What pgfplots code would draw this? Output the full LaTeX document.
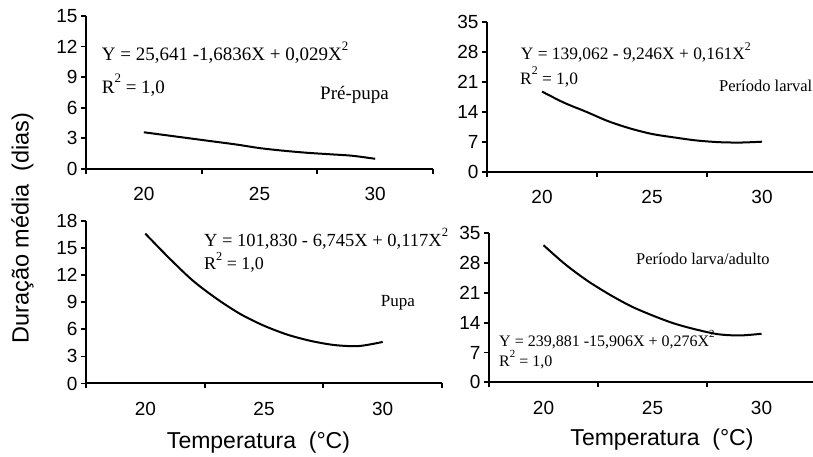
\documentclass[border=0pt]{standalone}
\usepackage{fontspec}
\setmainfont{Liberation Sans}
\newfontfamily\tms{Liberation Serif}
\usepackage{graphicx}
\usepackage{pgfplots}
\pgfplotsset{compat=1.18}

\newcommand\sq{\raisebox{0.55em}{\scalebox{0.68}{2}}}

\pgfplotsset{
  panel/.style={
    scale only axis,
    anchor=south west,
    xmin=17.5, xmax=32.5,
    ymin=0,
    axis x line*=bottom, axis y line*=left,
    axis line style={line width=2pt},
    xtick={17.5,22.5,27.5,32.5},
    xticklabels={,,,},
    extra x ticks={20,25,30},
    extra x tick labels={20,25,30},
    extra x tick style={major tick length=0pt, tick label style={yshift=-15pt}},
    tick align=outside,
    major tick length=5pt,
    every tick/.style={black, line width=1.8pt},
    tick label style={font=\fontsize{19}{19}\selectfont},
    /pgf/number format/assume math mode=true,
    clip=false,
  },
  curve/.style={black, line width=2pt, smooth, no markers},
}

\begin{document}
\begin{tikzpicture}[x=1pt,y=1pt]
% Pre-pupa
\begin{axis}[panel, at={(86pt,288pt)}, width=347pt, height=153pt,
  ymax=15, ytick={0,3,...,15}]
\addplot[curve] coordinates {
  (20,3.6) (21,3.3) (22,3.0) (23,2.7) (24,2.4) (25,2.05)
  (26,1.8) (27,1.6) (28,1.45) (29,1.3) (30,1.0)};
\end{axis}
% Periodo larval
\begin{axis}[panel, at={(487pt,285.3pt)}, width=330pt, height=150pt,
  ymax=35, ytick={0,7,...,35}]
\addplot[curve] coordinates {
  (20,18.7) (21,16.1) (22,14.0) (23,11.8) (24,10.1) (25,8.8)
  (26,8.0) (27,7.3) (28,6.9) (29,6.8) (30,7.0)};
\end{axis}
% Pupa
\begin{axis}[panel, at={(86pt,73.5pt)}, width=356pt, height=162.5pt,
  ymax=18, ytick={0,3,...,18}]
\addplot[curve] coordinates {
  (20,16.6) (21,13.9) (22,11.4) (23,9.4) (24,7.7) (25,6.4)
  (26,5.4) (27,4.7) (28,4.25) (29,4.15) (30,4.6)};
\end{axis}
% Periodo larva/adulto
\begin{axis}[panel, at={(489pt,74.7pt)}, width=327pt, height=149pt,
  ymax=35, ytick={0,7,...,35}]
\addplot[curve] coordinates {
  (20,32.2) (21,27.7) (22,23.9) (23,20.7) (24,17.9) (25,15.7)
  (26,13.8) (27,12.4) (28,11.3) (29,11.0) (30,11.4)};
\end{axis}

\begin{scope}[every node/.style={inner sep=0pt, anchor=base west}]
\node[font=\tms\fontsize{19}{19}\selectfont] at (101.7,396.3) {Y = 25,641 -1,6836X + 0,029X\sq};
\node[font=\tms\fontsize{19}{19}\selectfont] at (101.7,363.7) {R\sq{} = 1,0};
\node[font=\tms\fontsize{19}{19}\selectfont] at (320,357) {Pré-pupa};

\node[font=\tms\fontsize{17.4}{17.4}\selectfont] at (520.7,397) {Y = 139,062 - 9,246X + 0,161X\sq};
\node[font=\tms\fontsize{17.4}{17.4}\selectfont] at (520,372.7) {R\sq{} = 1,0};
\node[font=\tms\fontsize{16.5}{16.5}\selectfont] at (719,365.3) {Período larval};

\node[font=\tms\fontsize{18.5}{18.5}\selectfont] at (204,210.3) {Y = 101,830 - 6,745X + 0,117X\sq};
\node[font=\tms\fontsize{18}{18}\selectfont] at (204,187) {R\sq{} = 1,0};
\node[font=\tms\fontsize{17}{17}\selectfont] at (380.7,150.3) {Pupa};

\node[font=\tms\fontsize{16.4}{16.4}\selectfont] at (636,192) {Período larva/adulto};
\node[font=\tms\fontsize{16}{16}\selectfont] at (499,110.3) {Y = 239,881 -15,906X + 0,276X\sq};
\node[font=\tms\fontsize{16}{16}\selectfont] at (499,90.3) {R\sq{} = 1,0};
\end{scope}

\node[rotate=90, font=\fontsize{23.5}{23.5}\selectfont] at (22.5,229) {Duração média\ \ (dias)};
\node[font=\fontsize{23}{23}\selectfont] at (258.5,14) {Temperatura\ \ (°C)};
\node[font=\fontsize{23}{23}\selectfont] at (662,17) {Temperatura\ \ (°C)};

\pgfresetboundingbox
\useasboundingbox (0,0) rectangle (813,457);
\end{tikzpicture}
\end{document}
